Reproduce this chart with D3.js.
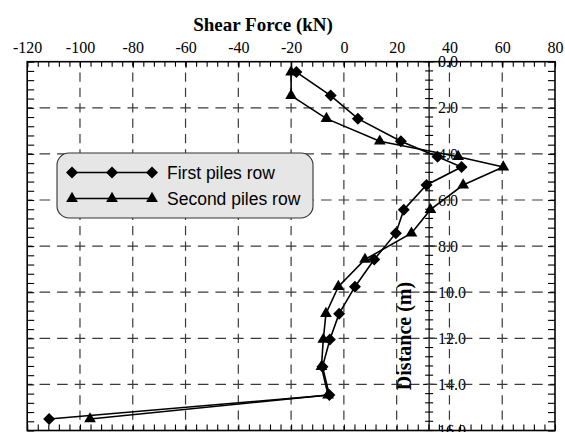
<!DOCTYPE html>
<html>
<head>
<meta charset="utf-8">
<script src="https://cdn.jsdelivr.net/npm/d3@7"></script>
<style>
  html, body { margin: 0; padding: 0; background: #fff; }
  svg { display: block; }
</style>
</head>
<body>
<svg id="chart" width="565" height="432"></svg>
<script>
// Pile node depths (m) and shear force per pile row (kN)
const depths    = [0.45, 1.47, 2.47, 3.45, 4.12, 4.57, 5.35, 6.42, 7.44, 8.58, 9.76, 10.93, 12.05, 13.23, 14.46, 15.5];
const firstRow  = [-18, -5, 5.3, 21.6, 35.5, 44.6, 31.3, 22.7, 19.7, 11.5, 4.2, -1.8, -5.3, -8.1, -5.5, -111.7];
const secondRow = [-20, -20, -6.6, 13.6, 43.3, 60.4, 45.2, 32.8, 25.6, 8.0, -2.1, -6.8, -7.8, -8.5, -6.0, -96.2];

const seriesNames  = ["First piles row", "Second piles row"];
const shearTicks   = d3.range(-120, 81, 20);
const shearMinor   = d3.range(-120, 81, 4);
const depthTicks   = d3.range(0, 17, 2);
const depthMinor   = d3.range(0, 16.01, 0.4);
const depthAxisAt  = 32.3;   // shear value where the depth axis crosses

const W = 565, H = 432;
const plot = { left: 27.2, right: 555, top: 61.7, bottom: 430.5 };

const svg = d3.select("#chart");

const x = d3.scaleLinear().domain([-120, 80]).range([plot.left, plot.right]);
const y = d3.scaleLinear().domain([0, 16]).range([plot.top, plot.bottom]);

const serif = "'Liberation Serif', 'Times New Roman', serif";
const sans  = "'Liberation Sans', Arial, sans-serif";

// ---- depth axis inside the plot (labels sit beneath the grid) ----
const ax0 = x(depthAxisAt);
const depthAxis = svg.append("g").attr("transform", `translate(${ax0},0)`);
depthAxis.append("line")
  .attr("y1", plot.top).attr("y2", plot.bottom)
  .attr("stroke", "#000").attr("stroke-width", 1.2);
depthAxis.selectAll("line.minor").data(depthMinor).join("line")
  .attr("class", "minor")
  .attr("x1", -4).attr("x2", 4)
  .attr("y1", d => y(d)).attr("y2", d => y(d))
  .attr("stroke", "#000").attr("stroke-width", 1.1);
depthAxis.selectAll("line.major").data(depthTicks).join("line")
  .attr("class", "major")
  .attr("x1", -6).attr("x2", 6)
  .attr("y1", d => y(d)).attr("y2", d => y(d))
  .attr("stroke", "#000").attr("stroke-width", 1.1);
depthAxis.selectAll("text").data(depthTicks).join("text")
  .attr("x", 9).attr("y", d => y(d)).attr("dy", "0.35em")
  .attr("font-family", serif).attr("font-size", 16)
  .attr("fill", "#000")
  .text(d3.format(".1f"));

// ---- dashed grid, dashes centred on the intersections ----
function dashFor(spacing) {
  const period = spacing / 3;
  const dash = period * 0.6;
  return { array: `${dash},${period - dash}`, offset: dash / 2 };
}
const hSpacing = x(20) - x(0);
const vSpacing = y(2) - y(0);
const hd = dashFor(hSpacing), vd = dashFor(vSpacing);

const grid = svg.append("g").attr("stroke", "#3a3a3a").attr("stroke-width", 1.2).attr("fill", "none");
grid.selectAll("line.v").data(shearTicks.filter(d => d > -120 && d < 80)).join("line")
  .attr("class", "v")
  .attr("x1", d => x(d)).attr("x2", d => x(d))
  .attr("y1", plot.top).attr("y2", plot.bottom)
  .attr("stroke-dasharray", vd.array).attr("stroke-dashoffset", vd.offset);
grid.selectAll("line.h").data(depthTicks.filter(d => d > 0 && d < 16)).join("line")
  .attr("class", "h")
  .attr("x1", plot.left).attr("x2", plot.right)
  .attr("y1", d => y(d)).attr("y2", d => y(d))
  .attr("stroke-dasharray", hd.array).attr("stroke-dashoffset", hd.offset);

// ---- frame ticks (all pointing inward) ----
function styleAxis(g) {
  g.select(".domain").remove();
  g.selectAll(".tick line").attr("stroke", "#000").attr("stroke-width", 1.1);
}
svg.append("g").attr("transform", `translate(0,${plot.top})`)
  .call(d3.axisTop(x).tickValues(shearMinor).tickSize(-5).tickFormat(""))
  .call(styleAxis);
svg.append("g").attr("transform", `translate(0,${plot.top})`)
  .call(d3.axisTop(x).tickValues(shearTicks).tickSize(-6).tickPadding(9).tickFormat(d => String(d)))
  .call(styleAxis)
  .call(g => g.selectAll("text")
    .attr("font-family", serif).attr("font-size", 16).attr("fill", "#000"));
svg.append("g").attr("transform", `translate(0,${plot.bottom})`)
  .call(d3.axisBottom(x).tickValues(shearMinor).tickSize(-6).tickFormat(""))
  .call(styleAxis);
svg.append("g").attr("transform", `translate(${plot.left},0)`)
  .call(d3.axisLeft(y).tickValues(depthMinor).tickSize(-7).tickFormat(""))
  .call(styleAxis);
svg.append("g").attr("transform", `translate(${plot.right},0)`)
  .call(d3.axisRight(y).tickValues(depthMinor).tickSize(-7).tickFormat(""))
  .call(styleAxis);

svg.append("rect")
  .attr("x", plot.left).attr("y", plot.top)
  .attr("width", plot.right - plot.left).attr("height", plot.bottom - plot.top)
  .attr("fill", "none").attr("stroke", "#000").attr("stroke-width", 1.6);

// ---- series ----
const diamond  = d3.symbol().type(d3.symbolSquare).size(72);
const triangle = d3.symbol().type(d3.symbolTriangle).size(60);
const series = [
  { name: seriesNames[0], values: firstRow,  marker: diamond,  rotate: 45 },
  { name: seriesNames[1], values: secondRow, marker: triangle, rotate: 0 }
];
const line = d3.line().x(d => x(d[0])).y(d => y(d[1]));

series.forEach(s => {
  const pts = s.values.map((v, i) => [v, depths[i]]);
  svg.append("path").datum(pts)
    .attr("d", line).attr("fill", "none")
    .attr("stroke", "#000").attr("stroke-width", 1.6);
  svg.append("g").selectAll("path").data(pts).join("path")
    .attr("d", s.marker())
    .attr("transform", d => `translate(${x(d[0])},${y(d[1])}) rotate(${s.rotate})`)
    .attr("fill", "#000");
});

// ---- legend ----
const lg = svg.append("g").attr("transform", "translate(57,153)");
lg.append("rect")
  .attr("width", 256).attr("height", 65).attr("rx", 12).attr("ry", 12)
  .attr("fill", "#e6e6e6").attr("stroke", "#333").attr("stroke-width", 1.1);
series.forEach((s, i) => {
  const row = lg.append("g").attr("transform", `translate(0,${19.5 + i * 26})`);
  row.append("line").attr("x1", 15).attr("x2", 95)
    .attr("stroke", "#000").attr("stroke-width", 1.6);
  [15, 55, 95].forEach(px => row.append("path")
    .attr("d", s.marker())
    .attr("transform", `translate(${px},0) rotate(${s.rotate})`)
    .attr("fill", "#000"));
  row.append("text").attr("x", 110).attr("dy", "0.35em")
    .attr("font-family", sans).attr("font-size", 17.5).attr("fill", "#000")
    .text(s.name);
});

// ---- titles ----
svg.append("text")
  .attr("x", 263).attr("y", 31).attr("text-anchor", "middle")
  .attr("font-family", serif).attr("font-weight", "bold").attr("font-size", 19)
  .text("Shear Force (kN)");
svg.append("text")
  .attr("transform", "translate(411,336) rotate(-90)")
  .attr("text-anchor", "middle")
  .attr("font-family", serif).attr("font-weight", "bold").attr("font-size", 20)
  .text("Distance (m)");
</script>
</body>
</html>
